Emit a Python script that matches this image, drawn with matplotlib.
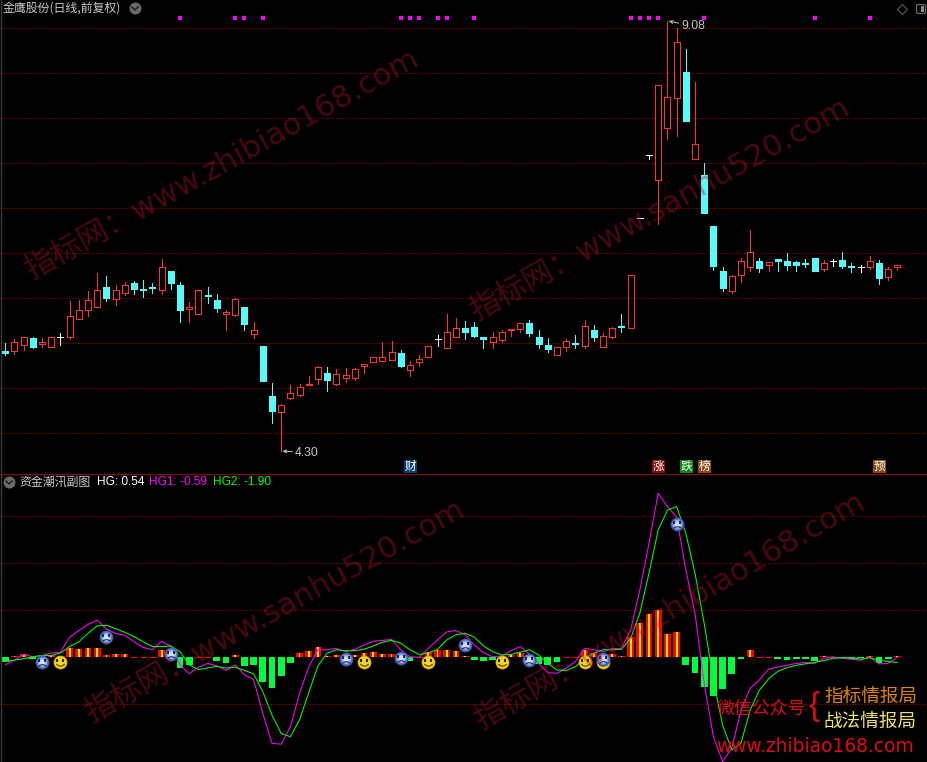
import numpy as np
import matplotlib
matplotlib.use("Agg")
import matplotlib.pyplot as plt
from matplotlib.path import Path

opens = [5.41,5.41,5.48,5.56,5.49,5.46,5.57,5.57,5.77,5.87,5.90,6.12,5.99,6.06,6.17,6.10,6.12,6.09,6.30,6.14,
         5.88,5.82,6.03,5.98,5.82,5.81,5.90,5.60,5.47,4.91,4.73,4.89,4.92,5.03,5.10,5.17,5.05,5.11,5.11,5.25,
         5.29,5.30,5.31,5.39,5.20,5.29,5.35,5.54,5.45,5.57,5.67,5.68,5.57,5.51,5.53,5.64,5.66,5.72,5.57,5.48,
         5.37,5.46,5.50,5.47,5.64,5.46,5.57,5.69,5.67,6.89,7.59,7.31,7.89,8.22,8.51,7.55,7.37,6.80,6.30,6.08,
         6.26,6.35,6.41,6.37,6.43,6.41,6.40,6.39,6.44,6.32,6.41,6.42,6.36,6.35,6.35,6.39,6.23,6.34]
highs = [5.50,5.54,5.57,5.57,5.56,5.57,5.61,5.97,5.98,6.08,6.28,6.24,6.15,6.18,6.19,6.20,6.17,6.43,6.30,6.18,
         5.96,6.09,6.12,6.05,5.87,6.00,5.90,5.73,5.47,5.06,4.82,5.03,5.05,5.13,5.24,5.23,5.21,5.22,5.22,5.27,
         5.34,5.51,5.52,5.42,5.30,5.37,5.47,5.59,5.82,5.78,5.75,5.73,5.57,5.62,5.65,5.66,5.72,5.76,5.65,5.56,
         5.46,5.54,5.59,5.76,5.70,5.61,5.68,5.82,6.26,6.89,7.59,8.37,9.08,9.00,8.77,8.40,7.50,6.80,6.35,6.26,
         6.44,6.76,6.44,6.40,6.43,6.50,6.41,6.43,6.44,6.42,6.43,6.51,6.39,6.37,6.47,6.42,6.34,6.37]
lows = [5.37,5.38,5.42,5.45,5.46,5.46,5.48,5.54,5.77,5.80,5.90,5.97,5.92,6.03,6.05,6.01,6.06,6.04,6.10,5.73,
        5.73,5.82,5.95,5.84,5.65,5.80,5.65,5.56,5.08,4.61,4.30,4.88,4.91,5.03,5.04,4.97,5.03,5.07,5.09,5.17,
        5.29,5.30,5.31,5.23,5.13,5.25,5.35,5.47,5.45,5.57,5.54,5.57,5.44,5.45,5.51,5.58,5.62,5.58,5.45,5.40,
        5.37,5.41,5.44,5.45,5.52,5.46,5.56,5.62,5.67,6.89,7.54,6.82,7.77,7.80,7.97,7.55,6.94,6.31,6.08,6.06,
        6.18,6.30,6.29,6.30,6.30,6.31,6.30,6.34,6.30,6.30,6.36,6.33,6.29,6.29,6.32,6.16,6.20,6.31]
closes = [5.39,5.51,5.57,5.46,5.51,5.57,5.57,5.80,5.87,5.98,6.09,6.00,6.09,6.14,6.10,6.09,6.11,6.34,6.17,5.87,
          5.90,6.09,6.02,5.89,5.85,5.99,5.71,5.65,5.08,4.75,4.81,4.95,5.01,5.05,5.23,5.09,5.16,5.14,5.21,5.27,
          5.34,5.35,5.40,5.25,5.26,5.32,5.47,5.54,5.62,5.67,5.62,5.58,5.55,5.57,5.62,5.66,5.72,5.61,5.49,5.43,
          5.46,5.52,5.49,5.69,5.57,5.58,5.67,5.68,6.26,6.89,7.59,8.37,8.23,8.84,7.97,7.71,6.95,6.36,6.11,6.24,
          6.41,6.51,6.33,6.40,6.41,6.37,6.37,6.38,6.30,6.39,6.41,6.36,6.35,6.35,6.41,6.22,6.32,6.37]

hg = [-0.10,0.03,0.08,-0.04,-0.03,0.04,0.03,0.20,0.18,0.20,
      0.20,0.05,0.07,0.07,0.01,0.01,0.01,0.16,0.04,-0.23,
      -0.16,0.01,0.01,-0.08,-0.12,0.04,-0.18,-0.16,-0.52,-0.65,
      -0.40,-0.12,0.10,0.13,0.22,0.03,0.05,0.03,0.05,0.09,
      0.11,0.07,0.07,0.02,-0.08,0.01,0.11,0.16,0.16,0.13,
      0.03,-0.06,-0.08,-0.05,0.01,0.05,0.09,0.02,-0.14,-0.16,
      -0.10,0.01,0.01,0.16,0.10,0.05,0.07,0.03,0.43,0.73,
      0.92,1.00,0.50,0.54,-0.16,-0.33,-0.63,-0.82,-0.67,-0.35,
      -0.04,0.16,0.01,0.01,-0.04,-0.05,-0.04,-0.04,-0.08,0.03,
      0.01,-0.02,-0.03,-0.02,0.03,-0.12,-0.04,0.03]
hg1 = [-0.16,-0.06,0.06,0.01,0.04,0.09,0.11,0.43,0.57,0.70,
       0.79,0.60,0.51,0.47,0.33,0.21,0.16,0.34,0.24,-0.16,
       -0.35,-0.21,-0.13,-0.18,-0.28,-0.16,-0.37,-0.47,-1.19,-1.83,
       -1.85,-1.48,-0.77,-0.20,0.16,0.16,0.19,0.12,0.17,0.26,
       0.34,0.36,0.38,0.16,0.01,0.00,0.19,0.37,0.54,0.57,
       0.48,0.26,0.10,0.01,0.03,0.14,0.23,0.07,-0.13,-0.33,
       -0.34,-0.23,-0.09,0.19,0.16,0.12,0.19,0.18,0.58,1.43,
       2.43,3.49,3.21,2.99,1.86,0.94,-0.55,-1.69,-2.22,-1.94,
       -1.12,-0.66,-0.48,-0.25,-0.21,-0.17,-0.13,-0.11,-0.13,-0.02,
       0.01,-0.02,-0.04,-0.06,0.01,-0.14,-0.13,0.00]
hg2 = [-0.09,-0.06,-0.03,0.01,0.04,0.04,0.09,0.23,0.33,0.51,
       0.67,0.68,0.61,0.53,0.44,0.33,0.23,0.23,0.24,0.12,
       -0.16,-0.26,-0.23,-0.19,-0.23,-0.21,-0.28,-0.35,-0.73,-1.23,
       -1.62,-1.69,-1.33,-0.75,-0.18,0.09,0.16,0.14,0.14,0.17,
       0.24,0.32,0.36,0.30,0.16,0.06,0.09,0.17,0.37,0.48,
       0.51,0.43,0.24,0.12,0.05,0.06,0.11,0.16,0.05,-0.13,
       -0.27,-0.28,-0.20,-0.02,0.09,0.16,0.16,0.17,0.40,0.94,
       1.79,2.71,3.13,3.21,2.64,1.79,0.72,-0.48,-1.44,-1.97,
       -1.83,-1.12,-0.70,-0.46,-0.30,-0.22,-0.17,-0.14,-0.11,-0.07,
       -0.02,-0.01,-0.01,-0.04,-0.01,-0.06,-0.09,-0.11]

sad_idx = [4,11,18,37,43,50,57,65,73]
sad_val = [-0.11,0.43,0.08,-0.04,-0.01,0.27,-0.06,-0.04,2.84]
smile_idx = [65,6,39,46,54,63]
smile_val = [-0.11,-0.11,-0.11,-0.11,-0.11,-0.11]
signal_idx = [19,25,26,28,43,44,45,47,48,51,68,69,70,71,76,88,94]
price_grid = [4.5,5.0,5.5,6.0,6.5,7.0,7.5,8.0,8.5,9.0]
hg_grid = [-1,1,2,3]
tags = ["财","涨","跌","榜","预"]
tag_idx = [44,71,74,76,95]
tag_bg = ["#0b3f78","#8a0a0a","#0a8a14","#8a4a0e","#8a4a0e"]

W, H = 928, 762
PX = 72 / 100
RED, CYAN, WHITE = "#ff3232", "#54fcfc", "#ffffff"
GRID = "#c00000"
CJK = ["Noto Sans CJK SC", "DejaVu Sans"]
LAT = ["Liberation Sans", "Noto Sans CJK SC"]
WMF = ["DejaVu Sans", "Noto Sans CJK SC"]

fig = plt.figure(figsize=(W / 100, H / 100), dpi=100, facecolor="black")

def panel(top, bottom):
    a = fig.add_axes([0, 1 - bottom / H, 1, (bottom - top) / H], facecolor="black")
    a.set_axis_off()
    return a

STEP, X0 = 9.196, 5.3
xlim = (-X0 / STEP, (W - X0) / STEP)
x = np.arange(len(opens))

def dotted(ax, levels):
    for g in levels:
        ax.axhline(g, color=GRID, lw=PX, ls=(0, (1, 2)), zorder=1)

# price panel
ax1 = panel(0, 473)
ax1.set_xlim(*xlim)
ax1.set_ylim(9 - (473 - 28) / 90, 9 + 28 / 90)
dotted(ax1, price_grid)
o, h, l, c = map(np.array, (opens, highs, lows, closes))
cols = [RED if b > a else CYAN if b < a else WHITE for a, b in zip(o, c)]
ax1.vlines(x, l, h, colors=cols, lw=PX, zorder=2, antialiased=False)
faces = ["black" if b > a else col for a, b, col in zip(o, c, cols)]
ax1.bar(x, np.abs(c - o), bottom=np.minimum(o, c), width=0.652, color=faces,
        edgecolor=cols, linewidth=PX, zorder=3, antialiased=False)
ax1.scatter([i for i in signal_idx], [9.108] * len(signal_idx), marker="s", s=(4 * PX) ** 2,
            color="#ff00ff", linewidths=0, zorder=4)
GR = "#c4c4c4"
imin, imax = int(np.argmin(l)), int(np.argmax(h))
ax1.annotate(f"{l[imin]:.2f}", xy=(imin, l[imin]), xytext=(10, -1.2), textcoords="offset points",
             color=GR, fontsize=8.8, family=LAT, va="center",
             arrowprops=dict(arrowstyle="->,head_width=0.12,head_length=0.25", color=GR, lw=0.7, shrinkA=0, shrinkB=1))
ax1.annotate(f"{h[imax]:.2f}", xy=(imax, h[imax]), xytext=(10, -4), textcoords="offset points",
             color=GR, fontsize=8.8, family=LAT, va="center",
             arrowprops=dict(arrowstyle="->,head_width=0.12,head_length=0.25", color=GR, lw=0.7, shrinkA=0, shrinkB=1))

# indicator panel
ax2 = panel(474, H)
ax2.set_xlim(*xlim)
ax2.set_ylim((657.3 - H) / 47, (657.3 - 474) / 47)
dotted(ax2, hg_grid)
v = np.array(hg)
pos = v > 0
ax2.bar(x[pos], v[pos], width=0.74, color="#ff0000", linewidth=0, zorder=2)
ax2.hlines(v[pos], x[pos] - 0.37, x[pos] + 0.37, colors="#ff0000", lw=PX, zorder=2)
ax2.bar(x[pos], v[pos], width=0.2, color="#ffe600", linewidth=0, zorder=2.1)
ax2.bar(x[~pos], v[~pos], width=0.74, color="#00ff40", linewidth=0, zorder=2)
ax2.plot(x, hg1, color="#ff00ff", lw=PX * 1.05, zorder=3)
ax2.plot(x, hg2, color="#00ff00", lw=PX * 1.05, zorder=3.1)

t = np.linspace(-1, 1, 15)
smile_path = Path(np.column_stack([t, -0.35 - 0.5 * (1 - t ** 2)]))
sad_path = Path(np.column_stack([t, -1.0 + 0.45 * (1 - t ** 2)]))
eye_path = Path.make_compound_path(
    Path.unit_rectangle().transformed(matplotlib.transforms.Affine2D().scale(0.3, 0.5).translate(-0.6, 0.0)),
    Path.unit_rectangle().transformed(matplotlib.transforms.Affine2D().scale(0.3, 0.5).translate(0.3, 0.0)))

def faces_at(xs, ys, layers, eye, z):
    for d, col in layers:
        ax2.scatter(xs, ys, s=(d * PX) ** 2, color=col, linewidths=0, zorder=z)
    ax2.plot(xs, ys, ls="", marker=eye, ms=7.5 * PX, mfc="#20244a", mew=0, zorder=z + 0.01)

faces_at(smile_idx, smile_val, [(14, "#b08a00"), (12.5, "#f6d31a")], eye_path, 5)
ax2.plot(smile_idx, smile_val, ls="", marker=smile_path, ms=8.5 * PX, mfc="none", mec="#4a3600", mew=0.75, zorder=5.02)
faces_at(sad_idx, sad_val, [(14, "#2f4f9e"), (12, "#5d7cc8"), (9, "#9db2e6"), (6, "#d3dcf5")], eye_path, 6)
ax2.plot(sad_idx, sad_val, ls="", marker=sad_path, ms=8 * PX, mfc="none", mec="#20244a", mew=0.75, zorder=6.02)

# overlay in figure pixels
ui = fig.add_axes([0, 0, 1, 1], facecolor="none", zorder=10)
ui.set_axis_off()
ui.set_xlim(0, W)
ui.set_ylim(H, 0)
ui.axhline(473.5, color="#8a0000", lw=PX)
ui.axvline(0.5, color="#3a3a3a", lw=PX * 1.4)

def chevron(cx, cy):
    ui.scatter([cx], [cy], s=(12 * PX) ** 2, color="#6a6a6a", linewidths=0)
    ui.plot([cx - 3, cx, cx + 3], [cy - 1, cy + 2, cy - 1], color="#1c1c1c", lw=1.0)

ui.text(3, 8.5, "金鹰股份(日线,前复权)", color="#c8c8c8", fontsize=8.6, family=CJK, va="center")
chevron(135, 8)
chevron(9, 482)
ui.text(19, 482.5, "资金潮汛副图", color="#c8c8c8", fontsize=8.6, family=CJK, va="center")
ui.text(97, 482, "HG: 0.54", color="#ffffff", fontsize=8.6, family=LAT, va="center")
ui.text(149, 482, "HG1: -0.59", color="#ff00ff", fontsize=8.6, family=LAT, va="center")
ui.text(213, 482, "HG2: -1.90", color="#00ff00", fontsize=8.6, family=LAT, va="center")

ui.plot([902], [9], marker="D", ms=7 * PX * 1.05, mfc="none", mec="#5a5a5a", mew=0.8)
ui.add_patch(matplotlib.patches.FancyBboxPatch((916.5, 4.5), 9, 9, boxstyle="round,pad=0,rounding_size=1.5",
                                               fc="none", ec="#6a6a6a", lw=0.9))
ui.add_patch(matplotlib.patches.Rectangle((921.5, 6), 3, 6, fc="#8a8a8a", ec="none"))

for s, i, bg in zip(tags, tag_idx, tag_bg):
    px = X0 + STEP * i
    ui.add_patch(matplotlib.patches.Rectangle((px - 6, 460), 13, 13, fc=bg, ec="none"))
    ui.text(px + 0.5, 466, s, color="white", fontsize=8.4, family=CJK, ha="center", va="center")

wm = dict(color="#b01020", alpha=0.42, family=WMF, fontsize=22, ha="center", va="center",
          rotation_mode="anchor")
ui.text(222, 165, "指标网：www.zhibiao168.com", rotation=29, **wm)
ui.text(660, 210, "指标网：www.sanhu520.com", rotation=29, **wm)
ui.text(275, 612, "指标网：www.sanhu520.com", rotation=29, **wm)
ui.text(670, 612, "指标网：www.zhibiao168.com", rotation=30, **wm)

ui.text(717, 709, "微信公众号", color="#e00a14", fontsize=12.9, family=CJK, va="center")
ui.text(814, 707, "{", color="#e00a14", fontsize=24, family=LAT, ha="center", va="center")
ui.text(824, 697, "指标情报局", color="#e08400", fontsize=13.4, family=CJK, va="center")
ui.text(824, 722, "战法情报局", color="#efe26a", fontsize=13.4, family=CJK, va="center")
ui.text(716, 746.5, "www.zhibiao168.com", color="#e00a14", fontsize=13.4, family=WMF, va="center")

fig.savefig("out.png", dpi=100, facecolor="black")
